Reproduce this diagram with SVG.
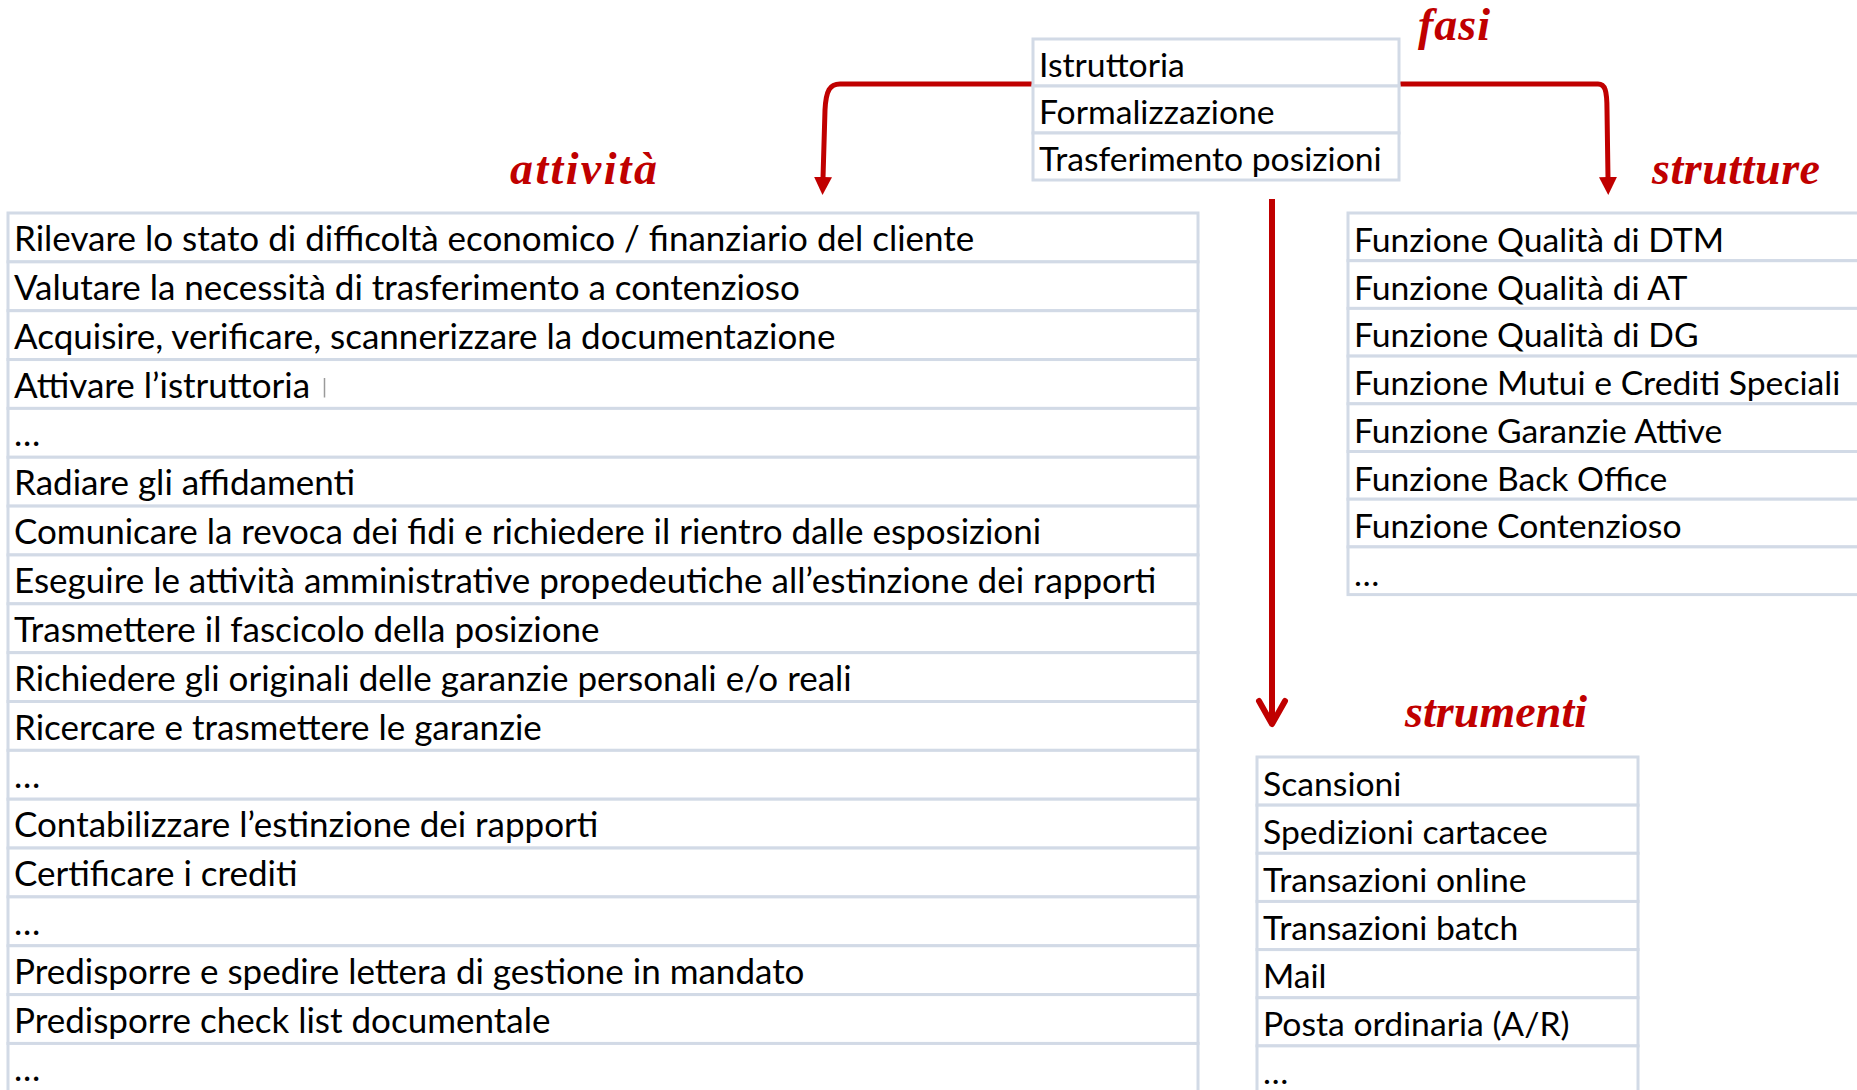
<svg xmlns="http://www.w3.org/2000/svg" width="1857" height="1090" viewBox="0 0 1857 1090">
<defs>
<style>
.cell{fill:#fff;stroke:#D2DAE6;stroke-width:3}
.t{font-family:Lato,"Liberation Sans",sans-serif;font-size:35px;fill:#000}
.s{font-family:Lato,"Liberation Sans",sans-serif;font-size:33.7px;fill:#000}
.lbl{font-family:"Liberation Serif",serif;font-size:46px;font-weight:bold;font-style:italic;fill:#C00000}
.arr{fill:none;stroke:#C00000;stroke-width:5}
</style>
<marker id="tri" markerUnits="userSpaceOnUse" viewBox="0 0 18 18" markerWidth="18" markerHeight="18" refX="1" refY="9" orient="auto"><path d="M0,0 L18,9 L0,18 z" fill="#C00000"/></marker>
<marker id="chev" markerUnits="userSpaceOnUse" viewBox="-28 -18 34 36" markerWidth="34" markerHeight="36" refX="0" refY="0" orient="auto"><path d="M-21,-13 L2,0 L-21,13" fill="none" stroke="#C00000" stroke-width="6" stroke-linecap="round" stroke-linejoin="round"/></marker>
</defs>
<rect width="1857" height="1090" fill="#fff"/>

<g id="connectors">
<path class="arr" d="M1033,84 L840,84 C830,84 826,90 825,110 L823,178" marker-end="url(#tri)"/>
<path class="arr" d="M1399,84 L1598,84 C1605,84 1607,90 1607,110 L1608,178" marker-end="url(#tri)"/>
<path class="arr" d="M1272,199 L1272,722" style="stroke-width:6" marker-end="url(#chev)"/>
</g>

<g id="fasi">
<rect class="cell" x="1033" y="39" width="366" height="47"/>
<rect class="cell" x="1033" y="86" width="366" height="47"/>
<rect class="cell" x="1033" y="133" width="366" height="47"/>
<text class="s" x="1039" y="77">Istruttoria</text>
<text class="s" x="1039" y="124">Formalizzazione</text>
<text class="s" x="1039" y="171">Trasferimento posizioni</text>
</g>

<g id="label-fasi"><text class="lbl" x="1418" y="40" textLength="72" lengthAdjust="spacing">fasi</text></g>
<g id="label-attivita"><text class="lbl" x="510" y="184" textLength="147" lengthAdjust="spacing">attività</text></g>
<g id="label-strutture"><text class="lbl" x="1652" y="184" textLength="168" lengthAdjust="spacing">strutture</text></g>
<g id="label-strumenti"><text class="lbl" x="1405" y="727" textLength="182" lengthAdjust="spacing">strumenti</text></g>

<g id="attivita">
<rect class="cell" x="8" y="213" width="1190" height="48.85"/>
<rect class="cell" x="8" y="261.85" width="1190" height="48.85"/>
<rect class="cell" x="8" y="310.7" width="1190" height="48.85"/>
<rect class="cell" x="8" y="359.55" width="1190" height="48.85"/>
<rect class="cell" x="8" y="408.4" width="1190" height="48.85"/>
<rect class="cell" x="8" y="457.25" width="1190" height="48.85"/>
<rect class="cell" x="8" y="506.1" width="1190" height="48.85"/>
<rect class="cell" x="8" y="554.95" width="1190" height="48.85"/>
<rect class="cell" x="8" y="603.8" width="1190" height="48.85"/>
<rect class="cell" x="8" y="652.65" width="1190" height="48.85"/>
<rect class="cell" x="8" y="701.5" width="1190" height="48.85"/>
<rect class="cell" x="8" y="750.35" width="1190" height="48.85"/>
<rect class="cell" x="8" y="799.2" width="1190" height="48.85"/>
<rect class="cell" x="8" y="848.05" width="1190" height="48.85"/>
<rect class="cell" x="8" y="896.9" width="1190" height="48.85"/>
<rect class="cell" x="8" y="945.75" width="1190" height="48.85"/>
<rect class="cell" x="8" y="994.6" width="1190" height="48.85"/>
<rect class="cell" x="8" y="1043.45" width="1190" height="60"/>
<text class="t" x="14" y="251">Rilevare lo stato di difficoltà economico / finanziario del cliente</text>
<text class="t" x="14" y="299.85">Valutare la necessità di trasferimento a contenzioso</text>
<text class="t" x="14" y="348.7">Acquisire, verificare, scannerizzare la documentazione</text>
<text class="t" x="14" y="397.55">Attivare l’istruttoria</text>
<line x1="324.5" y1="378" x2="324.5" y2="397.5" stroke="#9a9a9a" stroke-width="1.5"/>
<text class="t" x="14" y="446.4">…</text>
<text class="t" x="14" y="495.25">Radiare gli affidamenti</text>
<text class="t" x="14" y="544.1">Comunicare la revoca dei fidi e richiedere il rientro dalle esposizioni</text>
<text class="t" x="14" y="592.95">Eseguire le attività amministrative propedeutiche all’estinzione dei rapporti</text>
<text class="t" x="14" y="641.8">Trasmettere il fascicolo della posizione</text>
<text class="t" x="14" y="690.65">Richiedere gli originali delle garanzie personali e/o reali</text>
<text class="t" x="14" y="739.5">Ricercare e trasmettere le garanzie</text>
<text class="t" x="14" y="788.35">…</text>
<text class="t" x="14" y="837.2">Contabilizzare l’estinzione dei rapporti</text>
<text class="t" x="14" y="886.05">Certificare i crediti</text>
<text class="t" x="14" y="934.9">…</text>
<text class="t" x="14" y="983.75">Predisporre e spedire lettera di gestione in mandato</text>
<text class="t" x="14" y="1032.6">Predisporre check list documentale</text>
<text class="t" x="14" y="1081.45">…</text>
</g>

<g id="strutture">
<rect class="cell" x="1348" y="213" width="530" height="47.7"/>
<rect class="cell" x="1348" y="260.7" width="530" height="47.7"/>
<rect class="cell" x="1348" y="308.4" width="530" height="47.7"/>
<rect class="cell" x="1348" y="356.1" width="530" height="47.7"/>
<rect class="cell" x="1348" y="403.8" width="530" height="47.7"/>
<rect class="cell" x="1348" y="451.5" width="530" height="47.7"/>
<rect class="cell" x="1348" y="499.2" width="530" height="47.7"/>
<rect class="cell" x="1348" y="546.9" width="530" height="47.7"/>
<text class="s" x="1354" y="252">Funzione Qualità di DTM</text>
<text class="s" x="1354" y="299.7">Funzione Qualità di AT</text>
<text class="s" x="1354" y="347.4">Funzione Qualità di DG</text>
<text class="s" x="1354" y="395.1">Funzione Mutui e Crediti Speciali</text>
<text class="s" x="1354" y="442.8">Funzione Garanzie Attive</text>
<text class="s" x="1354" y="490.5">Funzione Back Office</text>
<text class="s" x="1354" y="538.2">Funzione Contenzioso</text>
<text class="s" x="1354" y="585.9">…</text>
</g>

<g id="strumenti">
<rect class="cell" x="1257" y="757" width="381" height="48.15"/>
<rect class="cell" x="1257" y="805.15" width="381" height="48.15"/>
<rect class="cell" x="1257" y="853.3" width="381" height="48.15"/>
<rect class="cell" x="1257" y="901.45" width="381" height="48.15"/>
<rect class="cell" x="1257" y="949.6" width="381" height="48.15"/>
<rect class="cell" x="1257" y="997.75" width="381" height="48.15"/>
<rect class="cell" x="1257" y="1045.9" width="381" height="60"/>
<text class="s" x="1263" y="795.5">Scansioni</text>
<text class="s" x="1263" y="843.65">Spedizioni cartacee</text>
<text class="s" x="1263" y="891.8">Transazioni online</text>
<text class="s" x="1263" y="939.95">Transazioni batch</text>
<text class="s" x="1263" y="988.1">Mail</text>
<text class="s" x="1263" y="1036.25">Posta ordinaria (A/R)</text>
<text class="s" x="1263" y="1084.4">…</text>
</g>
</svg>
